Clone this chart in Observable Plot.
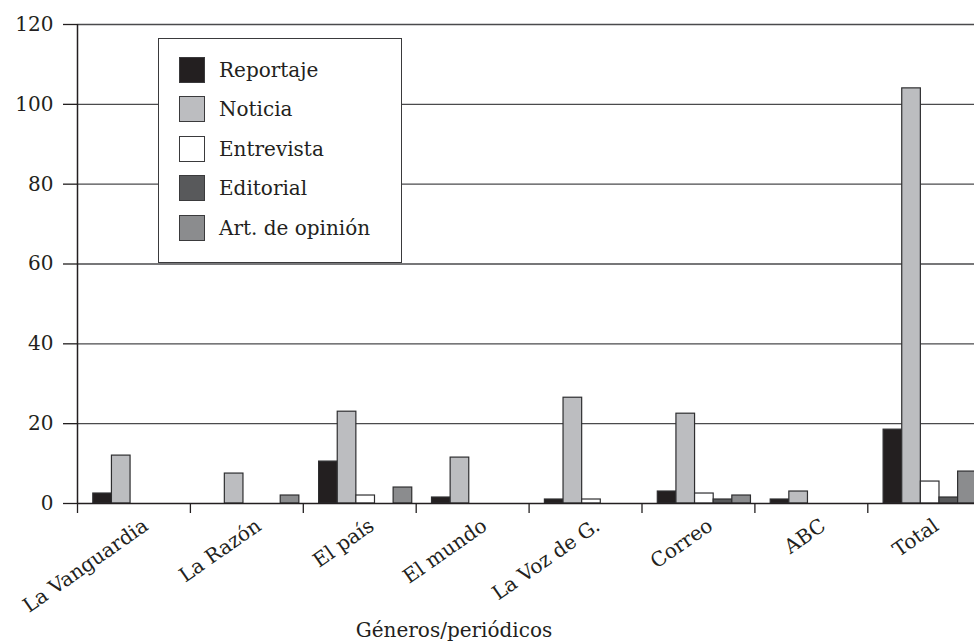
<!DOCTYPE html>
<html>
<head>
<meta charset="utf-8">
<script src="https://cdn.jsdelivr.net/npm/d3@7"></script>
<script src="https://cdn.jsdelivr.net/npm/@observablehq/plot@0.6"></script>
<style>
  html, body { margin: 0; padding: 0; background: #fff; }
  #wrap { position: relative; width: 974px; height: 644px; font-family: "DejaVu Serif", serif; }
  #legend { position: absolute; left: 158px; top: 38px; width: 242px; height: 223px; background: #fff;
            border: 1.5px solid #3a3a3c; box-sizing: content-box; }
  #legend .row { position: absolute; left: 20px; height: 27px; display: flex; align-items: center; }
  #legend .sw { width: 26px; height: 26px; border: 1px solid #3a3a3c; box-sizing: border-box; margin-right: 14px; }
  #legend .lab { font-size: 20px; color: #231f20; white-space: nowrap; }
</style>
</head>
<body>
<div id="wrap"></div>
<script>
const categories = ["La Vanguardia", "La Razón", "El país", "El mundo", "La Voz de G.", "Correo", "ABC", "Total"];
const series = ["Reportaje", "Noticia", "Entrevista", "Editorial", "Art. de opinión"];
const reportaje  = [2.5, 0,   10.5, 1.5,  1,    3,    1,  18.5];
const noticia    = [12,  7.5, 23,   11.5, 26.5, 22.5, 3,  104];
const entrevista = [0,   0,   2,    0,    1,    2.5,  0,  5.5];
const editorial  = [0,   0,   0,    0,    0,    1,    0,  1.5];
const opinion    = [0,   2,   4,    0,    0,    2,    0,  8];
const yTicks = [0, 20, 40, 60, 80, 100, 120];
const colors = ["#231f20", "#bcbdc0", "#ffffff", "#58595b", "#8b8c8e"];
const xTitle = "Géneros/periódicos";

const valuesBySeries = [reportaje, noticia, entrevista, editorial, opinion];
const table = [];
categories.forEach((c, gi) => {
  series.forEach((s, si) => {
    const v = valuesBySeries[si][gi];
    if (v > 0) table.push({category: c, series: s, value: v, gi, si});
  });
});

const barOffset = 0.14;
const barWidth = 0.165;
const ink = "#231f20";

const chart = Plot.plot({
  width: 974,
  height: 644,
  marginLeft: 77,
  marginRight: 0,
  marginTop: 24,
  marginBottom: 141,
  style: {fontFamily: "DejaVu Serif", fontSize: "20px", color: ink, background: "#fff"},
  x: {type: "linear", domain: [0, categories.length], range: [77, 77 + 8 * 112.9]},
  y: {domain: [0, 120]},
  color: {domain: series, range: colors},
  marks: [
    Plot.gridY(yTicks.filter(t => t > 0), {stroke: "#4a4a4c", strokeOpacity: 1, strokeWidth: 1.3}),
    Plot.rect(table, {
      x1: d => d.gi + barOffset + d.si * barWidth,
      x2: d => d.gi + barOffset + (d.si + 1) * barWidth,
      y1: () => 0,
      y2: "value",
      fill: "series",
      stroke: "#2e2e30",
      strokeWidth: 1.2
    }),
    Plot.ruleY([0], {stroke: ink, strokeWidth: 1.5}),
    Plot.ruleX([0], {stroke: ink, strokeWidth: 1.5}),
    Plot.axisY({ticks: yTicks, tickSize: 14, tickPadding: 10, fontSize: 20, label: null, strokeWidth: 1.3}),
    Plot.axisX({ticks: d3.range(categories.length + 1), tickSize: 10, tickFormat: () => "", label: null, strokeWidth: 1.3}),
    Plot.axisX({
      ticks: d3.range(categories.length).map(i => i + 0.5),
      tickSize: 0,
      tickPadding: 20,
      tickRotate: -35,
      dx: 12,
      fontSize: 20,
      tickFormat: v => categories[Math.floor(v)],
      label: null
    }),
    Plot.text([xTitle], {text: d => d, frameAnchor: "bottom", dx: -72, dy: 133, fontSize: 20, fill: ink})
  ]
});

const wrap = document.getElementById("wrap");
wrap.appendChild(chart);

const legend = document.createElement("div");
legend.id = "legend";
series.forEach((s, i) => {
  const row = document.createElement("div");
  row.className = "row";
  row.style.top = (17 + i * 39.5) + "px";
  const sw = document.createElement("div");
  sw.className = "sw";
  sw.style.background = colors[i];
  const lab = document.createElement("div");
  lab.className = "lab";
  lab.textContent = s;
  row.appendChild(sw);
  row.appendChild(lab);
  legend.appendChild(row);
});
wrap.appendChild(legend);
</script>
</body>
</html>
